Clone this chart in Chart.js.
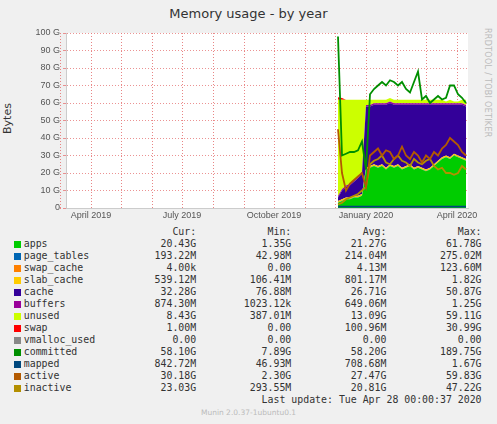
<!DOCTYPE html>
<html><head><meta charset="utf-8">
<script src="https://cdn.jsdelivr.net/npm/chart.js@4"></script>
<style>
body{margin:0;background:#f0f0f0;width:497px;height:424px;position:relative;overflow:hidden;font-family:"DejaVu Sans",sans-serif;}
#title{position:absolute;top:6px;left:0;width:497px;text-align:center;font-size:13px;color:#333;}
#ylab{position:absolute;left:-8px;top:112px;transform:rotate(-90deg);font-size:11px;color:#333;}
#rrd{position:absolute;left:483px;top:28px;writing-mode:vertical-rl;font-size:8px;color:#bbb;letter-spacing:0.3px;}
#wrap{position:absolute;left:0;top:0;width:497px;height:225px;}
#leg{position:absolute;left:0;top:226px;font-family:"DejaVu Sans Mono",monospace;font-size:9.9px;color:#333;}
#leg div{height:12px;line-height:12px;white-space:pre;position:relative;}
.sw{position:absolute;left:14px;top:3px;width:7px;height:7px;}
#munin{position:absolute;top:408px;left:0;width:497px;text-align:center;font-size:7.5px;color:#bbb;}
</style></head><body>
<div id="title">Memory usage - by year</div>
<div id="ylab">Bytes</div>
<div id="rrd">RRDTOOL / TOBI OETIKER</div>
<div id="wrap"><canvas id="c" width="497" height="225"></canvas></div>
<div id="leg"></div>
<div id="munin">Munin 2.0.37-1ubuntu0.1</div>
<script>
// days relative to 2020-01-01
const days = [-28,-24,-20,-16,-12,-8,-4,0,4,8,12,16,20,24,28,32,36,40,44,48,52,56,60,64,68,72,76,80,84,88,92,96,100];
const apps = [3,4,5,5,6,6,7,22,23,24,23,24,22,24,23,24,22,23,24,22,23,22,21,22,24,26,28,29,28,30,29,28,27];
const pageTables = days.map(() => 0.2);
const swapCache = days.map(() => 0);
const slabCache = days.map(() => 0.8);
const cache = [2,5,6,7,8,10,12,35,34,34,35,34,36,35,35,34,36,35,34,36,35,36,37,36,34,32,30,29,30,28,29,30,30];
const buffers = days.map(() => 0.8);
const unused = [55,51,49,48,46,44,41,3,3,2,2,2,2,2,2,2,2,2,2,2,2,2,2,2,2,2,2,1,2,1,1,2,3];
const swap = [1.5,1,0,0,0,0,0,0,0,0,0,0,0,0,0,0,0,0,0,0,0,0,0,0,0,0,0,0,0,0,0,0,0];
const committed = [98,30,31,32,32,33,38,22,65,68,70,72,70,73,72,70,72,68,66,72,78,62,64,60,62,64,62,63,70,70,65,63,60];
const mapped = days.map(() => 0.8);
const active = [45,20,10,14,16,18,20,12,30,32,34,30,33,32,28,30,35,30,28,32,30,26,30,28,32,30,34,36,40,38,36,32,30];
const inactive = [2,3,5,6,7,8,10,12,25,27,28,30,26,25,28,30,27,26,24,28,26,25,27,28,24,22,23,20,20,19,20,24,22];
const monthDays = [-306,-275,-245,-214,-184,-153,-122,-92,-61,-31,0,31,60,91];
const monthLabels = {"-275":"April 2019","-184":"July 2019","-92":"October 2019","0":"January 2020","91":"April 2020"};

const legendRows = [
  ["apps","#00cc00","20.43G","1.35G","21.27G","61.78G"],
  ["page_tables","#0066b3","193.22M","42.98M","214.04M","275.02M"],
  ["swap_cache","#ff8000","4.00k","0.00","4.13M","123.60M"],
  ["slab_cache","#ffcc00","539.12M","106.41M","801.17M","1.82G"],
  ["cache","#330099","32.28G","76.88M","26.71G","50.87G"],
  ["buffers","#990099","874.30M","1023.12k","649.06M","1.25G"],
  ["unused","#ccff00","8.43G","387.01M","13.09G","59.11G"],
  ["swap","#ff0000","1.00M","0.00","100.96M","30.99G"],
  ["vmalloc_used","#888888","0.00","0.00","0.00","0.00"],
  ["committed","#008f00","58.10G","7.89G","58.20G","189.75G"],
  ["mapped","#00487d","842.72M","46.93M","708.68M","1.67G"],
  ["active","#b35a00","30.18G","2.30G","27.47G","59.83G"],
  ["inactive","#b38f00","23.03G","293.55M","20.81G","47.22G"]
];

function pts(arr) { return days.map((d, i) => ({x: d, y: arr[i]})); }

const areas = [
  ["apps", apps, "#00cc00"], ["page_tables", pageTables, "#0066b3"], ["swap_cache", swapCache, "#ff8000"],
  ["slab_cache", slabCache, "#ffcc00"], ["cache", cache, "#330099"], ["buffers", buffers, "#990099"],
  ["unused", unused, "#ccff00"], ["swap", swap, "#ff0000"]
];
const lines = [
  ["committed", committed, "#008f00"], ["mapped", mapped, "#00487d"],
  ["active", active, "#b35a00"], ["inactive", inactive, "#b38f00"]
];
const datasets = [];
areas.forEach((a, i) => datasets.push({
  label: a[0], data: pts(a[1]), backgroundColor: a[2], borderColor: a[2], borderWidth: 0,
  fill: i === 0 ? "origin" : "-1", stack: "mem", pointRadius: 0, order: 2
}));
lines.forEach(l => datasets.push({
  label: l[0], data: pts(l[1]), borderColor: l[2], borderWidth: 1.8, fill: false,
  stack: "s_" + l[0], pointRadius: 0, order: 1
}));

new Chart(document.getElementById("c"), {
  type: "line",
  data: {datasets},
  options: {
    responsive: false, animation: false,
    layout: {padding: {top: 33, right: 29, left: 0, bottom: 0}},
    plugins: {legend: {display: false}, tooltip: {enabled: false}},
    elements: {line: {tension: 0}},
    scales: {
      x: {
        type: "linear", min: -300, max: 102,
        afterBuildTicks: s => { s.ticks = monthDays.map(v => ({value: v})); },
        afterFit: s => { s.height = 17; },
        ticks: {autoSkip: false, maxRotation: 0, font: {size: 9}, color: "#555", padding: 2,
          callback: v => monthLabels[String(v)] || ""},
        grid: {color: "rgba(230,120,120,0.9)", tickLength: 0, lineWidth: 1},
        border: {color: "#ccc", dash: [1, 2]}
      },
      y: {
        stacked: true, min: 0, max: 100,
        afterFit: s => { s.width = 66; },
        ticks: {stepSize: 10, font: {size: 9}, color: "#555", padding: 3,
          callback: v => v === 0 ? "0" : v + " G"},
        grid: {color: "rgba(230,120,120,0.8)", tickLength: 3},
        border: {color: "#ccc", dash: [1, 2]}
      }
    }
  },
  plugins: [{
    id: "bg",
    beforeDraw: ch => {
      const a = ch.chartArea, c = ch.ctx;
      c.save(); c.fillStyle = "#fff"; c.fillRect(a.left, a.top, a.right - a.left, a.bottom - a.top); c.restore();
    }
  }]
});

const leg = document.getElementById("leg");
const pad = (s, n) => s.padStart(n, " ");
let html = '<div>' + " ".repeat(27) + pad("Cur:", 6) + pad("Min:", 16) + pad("Avg:", 16) + pad("Max:", 16) + '</div>';
legendRows.forEach(r => {
  html += '<div><span class="sw" style="background:' + r[1] + '"></span>' +
    "    " + r[0].padEnd(17, " ") + pad(r[2], 12) + pad(r[3], 16) + pad(r[4], 16) + pad(r[5], 16) + '</div>';
});
html += '<div>' + pad("Last update: Tue Apr 28 00:00:37 2020", 81) + '</div>';
leg.innerHTML = html;
</script>
</body></html>
